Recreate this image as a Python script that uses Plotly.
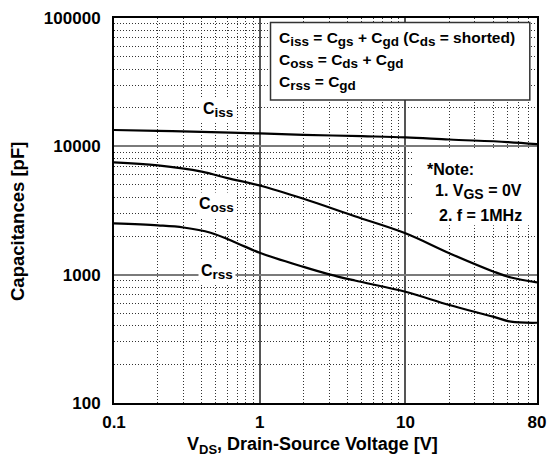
import numpy as np
import plotly.graph_objects as go

# ---- data ----
ciss_v = [0.1, 0.2, 0.4, 1, 2, 5, 10, 20, 50, 80]
ciss_c = [13400, 13200, 12950, 12600, 12300, 12000, 11750, 11300, 10800, 10400]

coss_v = [0.1, 0.2, 0.4, 0.6, 1, 2, 4.5, 10, 20, 40, 53, 80]
coss_c = [7500, 7100, 6350, 5650, 4950, 3900, 2850, 2100, 1470, 1060, 950, 870]

crss_v = [0.1, 0.2, 0.3, 0.46, 0.7, 1, 2, 3, 4.5, 10, 20, 40, 53, 80]
crss_c = [2510, 2420, 2330, 2120, 1760, 1480, 1150, 1006, 900, 736, 580, 471, 430, 422]

x_ticks = [0.1, 1, 10, 80]
x_ticktext = ["0.1", "1", "10", "80"]
y_ticks = [100, 1000, 10000, 100000]
y_ticktext = ["100", "1000", "10000", "100000"]

x_minor = [m * d for d in (0.1, 1, 10) for m in range(2, 10) if m * d < 80]
y_minor = [m * d for d in (100, 1000, 10000) for m in range(2, 10)]

FONT = "Liberation Sans"

fig = go.Figure()
for xv, yv in ((ciss_v, ciss_c), (coss_v, coss_c), (crss_v, crss_c)):
    fig.add_trace(go.Scatter(x=xv, y=yv, mode="lines",
                             line=dict(color="black", width=2.2, shape="spline", smoothing=1.0),
                             showlegend=False, hoverinfo="skip"))

axis_common = dict(
    type="log", showline=True, mirror=True, linecolor="black", linewidth=2,
    showgrid=True, gridwidth=1.5, ticks="", zeroline=False,
    automargin=False, ticklabeloverflow="allow",
    tickfont=dict(family=FONT, size=17, color="black", weight="bold"),
)

fig.update_xaxes(**axis_common, range=[-1, np.log10(80)], tickmode="array",
                 tickvals=x_ticks, ticktext=x_ticktext, gridcolor="#555",
                 ticklabelstandoff=3,
                 minor=dict(tickmode="array", tickvals=x_minor, showgrid=True,
                            gridcolor="#333", griddash="1px,2px", gridwidth=1, ticks=""))
fig.update_yaxes(**axis_common, range=[2, 5], tickmode="array",
                 tickvals=y_ticks, ticktext=y_ticktext, gridcolor="#7a7a7a",
                 ticklabelstandoff=8,
                 minor=dict(tickmode="array", tickvals=y_minor, showgrid=True,
                            gridcolor="#333", griddash="1px,2px", gridwidth=1, ticks=""))

# legend-like definition box
fig.add_shape(type="rect", xref="paper", yref="paper", x0=0.370, x1=0.983, y0=0.787, y1=0.988,
              line=dict(color="#333", width=1.5), fillcolor="white", layer="above")
# white area behind note
fig.add_shape(type="rect", xref="paper", yref="paper", x0=0.707, x1=0.997, y0=0.462, y1=0.660,
              line=dict(width=0), fillcolor="white", layer="above")

def ann(text, x, y, size=15, xanchor="left", bg=None, angle=0):
    fig.add_annotation(text=text, x=x, y=y, xref="paper", yref="paper", showarrow=False,
                       xanchor=xanchor, yanchor="middle", textangle=angle,
                       font=dict(family=FONT, size=size, color="black", weight="bold"),
                       bgcolor=bg, borderpad=2)

def px(xp, yp):
    return (xp - 114) / 423, (403 - yp) / 385

def sub(s, size):
    return f'<sub><span style="font-size:{size}px">{s}</span></sub>'

S = 13.5
lines = [f"C{sub('iss', S)} = C{sub('gs', S)} + C{sub('gd', S)} (C{sub('ds', S)} = shorted)",
         f"C{sub('oss', S)} = C{sub('ds', S)} + C{sub('gd', S)}",
         f"C{sub('rss', S)} = C{sub('gd', S)}"]
for t, yp in zip(lines, (39, 61, 83)):
    ann(t, *px(276, yp), size=15.5)

ann("*Note:", *px(424, 169), size=16)
ann(f"1. V{sub('GS', 14)} = 0V", *px(525, 192), size=16, xanchor="right")
ann("2. f = 1MHz", *px(525, 215), size=16, xanchor="right")

ann(f"C{sub('iss', 13.5)}", *px(218, 110), size=16, xanchor="center", bg="white")
ann(f"C{sub('oss', 13.5)}", *px(216, 205), size=16, xanchor="center", bg="white")
ann(f"C{sub('rss', 13.5)}", *px(217, 272), size=16, xanchor="center", bg="white")

# axis titles
ann(f"V{sub('DS', 13)}, Drain-Source Voltage [V]", *px(312, 445), size=18, xanchor="center")
ann("Capacitances [pF]", *px(18, 222), size=18.5, xanchor="center", angle=-90)

fig.update_layout(
    width=548, height=457,
    margin=dict(l=114, r=11, t=18, b=54),
    paper_bgcolor="white", plot_bgcolor="white",
    font=dict(family=FONT, color="black"),
    showlegend=False,
)

# remove the default 8px page margin so the figure fills the window exactly; hide the modebar
fig.write_html("out.html", config={"displayModeBar": False},
               post_script="document.body.style.margin='0px';")
